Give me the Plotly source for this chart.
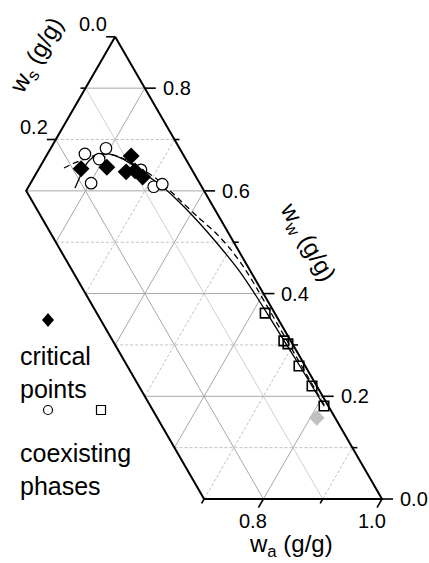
import numpy as np
import plotly.graph_objects as go

# Composition data in mass fractions (g/g); w_a = 1 - w_w - w_s
crit_ww = [0.643, 0.646, 0.668, 0.637, 0.639, 0.627]
crit_ws = [0.186, 0.141, 0.089, 0.113, 0.097, 0.090]

phase_top_ww = [0.672, 0.683, 0.662, 0.615, 0.641, 0.608, 0.613]
phase_top_ws = [0.165, 0.124, 0.146, 0.183, 0.086, 0.081, 0.064]

phase_bot_ww = [0.362, 0.308, 0.302, 0.259, 0.220, 0.181]
phase_bot_ws = [0.016, 0.0115, 0.0076, 0.0105, 0.008, 0.0073]

extra_ww = [0.158]
extra_ws = [0.031]

binodal_ww = [0.6055, 0.627, 0.648, 0.664, 0.671, 0.672, 0.666, 0.656, 0.641, 0.623,
              0.604, 0.586, 0.553, 0.518, 0.479, 0.440, 0.403, 0.362, 0.308, 0.259,
              0.220, 0.181]
binodal_ws = [0.215, 0.196, 0.177, 0.157, 0.140, 0.126, 0.112, 0.100, 0.088, 0.076,
              0.064, 0.056, 0.044, 0.034, 0.025, 0.018, 0.015, 0.013, 0.011, 0.009,
              0.008, 0.007]

binodal2_ww = [0.6445, 0.652, 0.662, 0.670, 0.672, 0.666, 0.654, 0.639, 0.621, 0.604,
               0.578, 0.549, 0.520, 0.485, 0.446, 0.411, 0.378, 0.330, 0.280, 0.230,
               0.181]
binodal2_ws = [0.214, 0.197, 0.170, 0.146, 0.126, 0.109, 0.095, 0.080, 0.067, 0.059,
               0.048, 0.036, 0.022, 0.012, 0.007, 0.006, 0.006, 0.006, 0.006, 0.006,
               0.006]

# Axis extent of the displayed ternary region
WA_MIN = 0.1
WS_MAX = 0.3

grid_ww = [0.1, 0.2, 0.3, 0.4, 0.5, 0.6, 0.7, 0.8]
grid_wa = [0.2, 0.3, 0.4, 0.5, 0.6, 0.7, 0.8, 0.9]
grid_ws = [0.1, 0.2]

ww_major = [0.0, 0.2, 0.4, 0.6, 0.8]
ww_minor = [0.1, 0.3, 0.5, 0.7]
ww_labels = ["0.0", "0.2", "0.4", "0.6", "0.8"]
wa_major = [0.8, 1.0]
wa_minor = [0.7, 0.9]
wa_labels = ["0.8", "1.0"]
ws_major = [0.0, 0.2]
ws_minor = [0.1]
ws_labels = ["0.0", "0.2"]

SQ3 = np.sqrt(3) / 2
PX = 593.0  # pixels per unit side length
FONT = "Liberation Sans, Arial, sans-serif"


def to_xy(ww, ws):
    ww = np.asarray(ww, dtype=float)
    ws = np.asarray(ws, dtype=float)
    return 1.0 - ws - ww / 2.0, ww * SQ3


def seg_trace(segs, color, width, dash="solid"):
    xs, ys = [], []
    for (x0, y0), (x1, y1) in segs:
        xs += [x0, x1, None]
        ys += [y0, y1, None]
    return go.Scatter(x=xs, y=ys, mode="lines", hoverinfo="skip", showlegend=False,
                      line=dict(color=color, width=width, dash=dash))


def pt(ww, ws):
    x, y = to_xy(ww, ws)
    return float(x), float(y)


fig = go.Figure()

# grid lines
major_solid, minor_dot, light_solid = [], [], []
for c in grid_ww:
    ws_left = min(WS_MAX, 1 - WA_MIN - c)
    s = (pt(c, ws_left), pt(c, 0.0))
    (major_solid if round(c * 10) % 2 == 0 else minor_dot).append(s)
for c in grid_wa:
    ws_lo = min(WS_MAX, 1 - c)
    s = (pt(1 - c - ws_lo, ws_lo), pt(1 - c, 0.0))
    (major_solid if round(c * 10) % 2 == 0 else minor_dot).append(s)
for c in grid_ws:
    s = (pt(1 - WA_MIN - c, c), pt(0.0, c))
    (major_solid if round(c * 10) % 2 == 0 else light_solid).append(s)

fig.add_trace(seg_trace(minor_dot, "#c2c2c2", 1, "3px,2px"))
fig.add_trace(seg_trace(light_solid, "#d0d0d0", 1))
fig.add_trace(seg_trace(major_solid, "#a8a8a8", 1))

# frame of the region
frame_ww = [1 - WA_MIN, 1 - WA_MIN - WS_MAX, 0.0, 0.0, 1 - WA_MIN]
frame_ws = [0.0, WS_MAX, WS_MAX, 0.0, 0.0]
fx, fy = to_xy(frame_ww, frame_ws)
fig.add_trace(go.Scatter(x=fx, y=fy, mode="lines", hoverinfo="skip", showlegend=False,
                         line=dict(color="black", width=2)))

# ticks
ticks = []
for c in ww_major:
    x, y = pt(c, 0.0)
    ticks.append(((x, y), (x + 11 / PX, y)))
for c in ww_minor:
    x, y = pt(c, 0.0)
    ticks.append(((x, y), (x + 5 / PX, y)))
for c in wa_major + wa_minor:
    L = (10 if c in wa_major else 5) / PX
    x, y = pt(0.0, 1 - c)
    ticks.append(((x, y), (x - 0.5 * L, y - SQ3 * L)))
for c in ws_major + ws_minor:
    L = (9 if c in ws_major else 5) / PX
    x, y = pt(1 - WA_MIN - c, c)
    ticks.append(((x, y), (x - L, y)))
fig.add_trace(seg_trace(ticks, "black", 1.6))

# binodal curves
bx, by = to_xy(binodal_ww, binodal_ws)
fig.add_trace(go.Scatter(x=bx, y=by, mode="lines", showlegend=False, hoverinfo="skip",
                         line=dict(color="black", width=1.3, shape="spline", smoothing=0.8)))
bx2, by2 = to_xy(binodal2_ww, binodal2_ws)
fig.add_trace(go.Scatter(x=bx2, y=by2, mode="lines", showlegend=False, hoverinfo="skip",
                         line=dict(color="black", width=1.3, dash="6px,4px",
                                   shape="spline", smoothing=0.8)))

# data points
x, y = to_xy(phase_top_ww, phase_top_ws)
fig.add_trace(go.Scatter(x=x, y=y, mode="markers", showlegend=False,
                         marker=dict(symbol="circle", size=11.5, color="white",
                                     line=dict(color="black", width=1.2))))
x, y = to_xy(phase_bot_ww, phase_bot_ws)
fig.add_trace(go.Scatter(x=x, y=y, mode="markers", showlegend=False,
                         marker=dict(symbol="square-open", size=9.5, color="black",
                                     line=dict(color="black", width=1.6))))
x, y = to_xy(crit_ww, crit_ws)
fig.add_trace(go.Scatter(x=x, y=y, mode="markers", showlegend=False,
                         marker=dict(symbol="diamond", size=13, color="black",
                                     line=dict(width=0))))
x, y = to_xy(extra_ww, extra_ws)
fig.add_trace(go.Scatter(x=x, y=y, mode="markers", showlegend=False,
                         marker=dict(symbol="diamond", size=12, color="#c0c0c0",
                                     line=dict(width=0))))

annotations = []
tick_font = dict(family=FONT, size=20, color="black")
for c, lab in zip(ww_major, ww_labels):
    x, y = pt(c, 0.0)
    annotations.append(dict(x=x, y=y, text=lab, showarrow=False, xanchor="left",
                            yanchor="middle", xshift=16, font=tick_font))
for c, lab in zip(wa_major, wa_labels):
    x, y = pt(0.0, 1 - c)
    annotations.append(dict(x=x, y=y, text=lab, showarrow=False, xanchor="center",
                            yanchor="middle", xshift=-10, yshift=-22, font=tick_font))
for c, lab in zip(ws_major, ws_labels):
    x, y = pt(1 - WA_MIN - c, c)
    annotations.append(dict(x=x, y=y, text=lab, showarrow=False, xanchor="center",
                            yanchor="middle", xshift=-22, yshift=12.5, font=tick_font))

title_font = dict(family=FONT, size=24, color="black")
W, H = 429, 563
annotations += [
    dict(xref="paper", yref="paper", x=291 / W, y=0.0, text="w<sub>a</sub> (g/g)",
         showarrow=False, xanchor="center", yanchor="bottom", font=title_font),
    dict(xref="paper", yref="paper", x=37 / W, y=1 - 56 / H, text="w<sub>s</sub> (g/g)",
         showarrow=False, xanchor="center", yanchor="middle", textangle=-60, font=title_font),
    dict(xref="paper", yref="paper", x=307 / W, y=1 - 242 / H, text="w<sub>w</sub> (g/g)",
         showarrow=False, xanchor="center", yanchor="middle", textangle=60, font=title_font),
]

legend_font = dict(family=FONT, size=25, color="black")
annotations += [
    dict(xref="paper", yref="paper", x=18 / W, y=1 - 340 / H, text="critical<br>points",
         showarrow=False, xanchor="left", yanchor="top", align="left", font=legend_font),
    dict(xref="paper", yref="paper", x=18 / W, y=1 - 437 / H, text="coexisting<br>phases",
         showarrow=False, xanchor="left", yanchor="top", align="left", font=legend_font),
]

# legend keys
shapes = [
    dict(type="path", xref="paper", yref="paper", xsizemode="pixel", ysizemode="pixel",
         xanchor=48 / W, yanchor=1 - 320 / H, path="M 0,7 L 6,0 L 0,-7 L -6,0 Z",
         fillcolor="black", line=dict(width=0)),
    dict(type="circle", xref="paper", yref="paper", xsizemode="pixel", ysizemode="pixel",
         xanchor=48 / W, yanchor=1 - 410 / H, x0=-4.5, x1=4.5, y0=-4.5, y1=4.5,
         fillcolor="white", line=dict(color="black", width=1.2)),
    dict(type="rect", xref="paper", yref="paper", xsizemode="pixel", ysizemode="pixel",
         xanchor=101 / W, yanchor=1 - 410 / H, x0=-4.5, x1=4.5, y0=-4.5, y1=4.5,
         fillcolor="white", line=dict(color="black", width=1.2)),
]

fig.update_layout(
    width=W, height=H,
    margin=dict(l=0, r=0, t=0, b=0),
    paper_bgcolor="white", plot_bgcolor="white",
    xaxis=dict(range=[1 - 382 / PX, 1 + (W - 382) / PX], visible=False, fixedrange=True),
    yaxis=dict(range=[-(H - 499) / PX, 499 / PX], visible=False, fixedrange=True),
    annotations=annotations,
    shapes=shapes,
    showlegend=False,
)

fig.write_html("out.html")
